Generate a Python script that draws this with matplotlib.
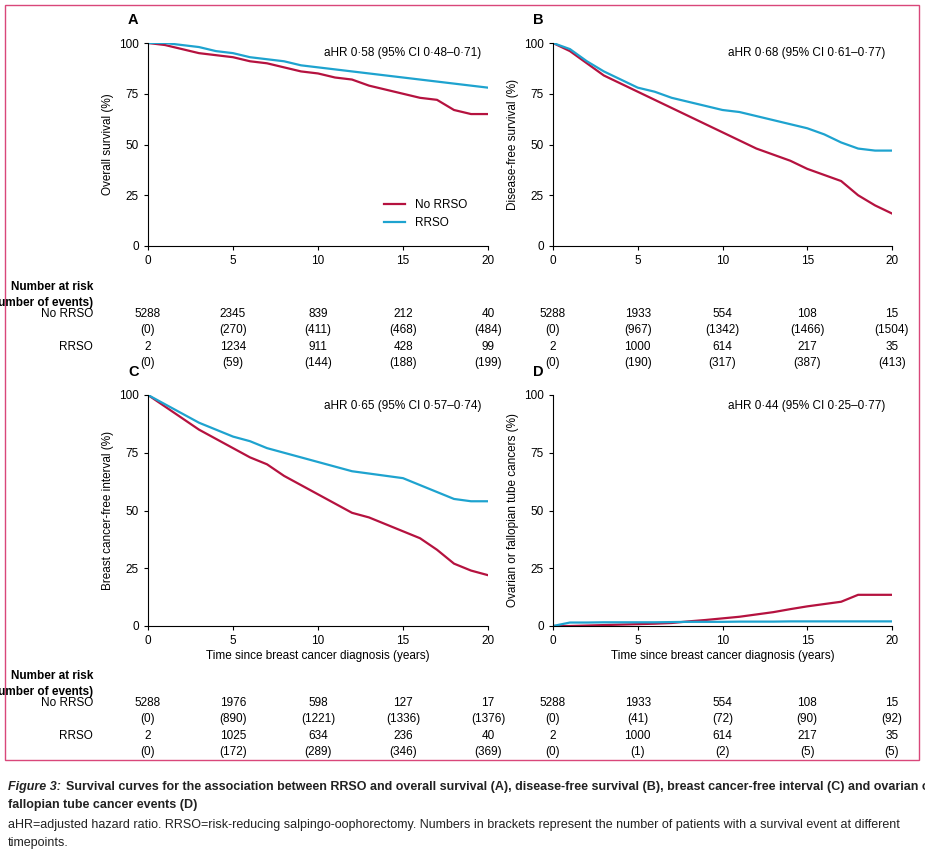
import numpy as np
import matplotlib.pyplot as plt
from matplotlib.patches import Rectangle
from matplotlib.transforms import blended_transform_factory

W, H = 925, 852
RED = '#b5123f'
BLUE = '#1ea3cf'

years = np.arange(0, 21)
a_no = [100, 99, 97, 95, 94, 93, 91, 90, 88, 86, 85, 83, 82, 79, 77, 75, 73, 72, 67, 65, 65]
a_rr = [100, 100, 99, 98, 96, 95, 93, 92, 91, 89, 88, 87, 86, 85, 84, 83, 82, 81, 80, 79, 78]
b_no = [100, 96, 90, 84, 80, 76, 72, 68, 64, 60, 56, 52, 48, 45, 42, 38, 35, 32, 25, 20, 16]
b_rr = [100, 97, 91, 86, 82, 78, 76, 73, 71, 69, 67, 66, 64, 62, 60, 58, 55, 51, 48, 47, 47]
c_no = [100, 95, 90, 85, 81, 77, 73, 70, 65, 61, 57, 53, 49, 47, 44, 41, 38, 33, 27, 24, 22]
c_rr = [100, 96, 92, 88, 85, 82, 80, 77, 75, 73, 71, 69, 67, 66, 65, 64, 61, 58, 55, 54, 54]
d_no = [0, 0, 0.2, 0.4, 0.6, 0.8, 1.0, 1.3, 2.0, 2.6, 3.3, 4.0, 5.0, 6.0, 7.3, 8.5, 9.5, 10.5, 13.5, 13.5, 13.5]
d_rr = [0, 1.5, 1.5, 1.6, 1.6, 1.6, 1.6, 1.7, 1.8, 1.8, 1.8, 1.9, 1.9, 1.9, 2.0, 2.0, 2.0, 2.0, 2.0, 2.0, 2.0]

risk_years = [0, 5, 10, 15, 20]
tables = {
    'A': [['5288', '2345', '839', '212', '40'], ['(0)', '(270)', '(411)', '(468)', '(484)'],
          ['2', '1234', '911', '428', '99'], ['(0)', '(59)', '(144)', '(188)', '(199)']],
    'B': [['5288', '1933', '554', '108', '15'], ['(0)', '(967)', '(1342)', '(1466)', '(1504)'],
          ['2', '1000', '614', '217', '35'], ['(0)', '(190)', '(317)', '(387)', '(413)']],
    'C': [['5288', '1976', '598', '127', '17'], ['(0)', '(890)', '(1221)', '(1336)', '(1376)'],
          ['2', '1025', '634', '236', '40'], ['(0)', '(172)', '(289)', '(346)', '(369)']],
    'D': [['5288', '1933', '554', '108', '15'], ['(0)', '(41)', '(72)', '(90)', '(92)'],
          ['2', '1000', '614', '217', '35'], ['(0)', '(1)', '(2)', '(5)', '(5)']],
}
panels = {
    'A': (a_no, a_rr, 'Overall survival (%)', 'aHR 0·58 (95% CI 0·48–0·71)'),
    'B': (b_no, b_rr, 'Disease-free survival (%)', 'aHR 0·68 (95% CI 0·61–0·77)'),
    'C': (c_no, c_rr, 'Breast cancer-free interval (%)', 'aHR 0·65 (95% CI 0·57–0·74)'),
    'D': (d_no, d_rr, 'Ovarian or fallopian tube cancers (%)', 'aHR 0·44 (95% CI 0·25–0·77)'),
}
# pixel boxes: left, top, right, bottom
boxes = {'A': (148, 43, 488, 246), 'B': (553, 43, 892, 246),
         'C': (148, 395, 488, 626), 'D': (553, 395, 892, 626)}
table_rows = {'A': [314, 330, 347, 363], 'B': [314, 330, 347, 363],
              'C': [703, 719, 736, 752], 'D': [703, 719, 736, 752]}

plt.rcParams['font.family'] = ['Liberation Sans', 'DejaVu Sans']
FS = 8.5
fig = plt.figure(figsize=(W / 100, H / 100), dpi=100)

def fx(x):
    return x / W

def fy(y):
    return 1 - y / H

fig.patches.append(Rectangle((fx(5), fy(760)), fx(914), 755 / H, transform=fig.transFigure,
                             fill=False, edgecolor='#d9477a', linewidth=1.0))

for key, (no, rr, ylab, ahr) in panels.items():
    l, t, r, b = boxes[key]
    ax = fig.add_axes([fx(l), fy(b), (r - l) / W, (b - t) / H])
    ax.plot(years, no, color=RED, lw=1.6, label='No RRSO')
    ax.plot(years, rr, color=BLUE, lw=1.6, label='RRSO')
    ax.set_xlim(0, 20)
    ax.set_ylim(0, 100)
    ax.set_xticks([0, 5, 10, 15, 20])
    ax.set_yticks([0, 25, 50, 75, 100])
    ax.tick_params(labelsize=FS, length=3)
    for s in ['top', 'right']:
        ax.spines[s].set_visible(False)
    ax.set_ylabel(ylab, fontsize=FS)
    ax.text(0.98, 0.98, ahr, transform=ax.transAxes, ha='right', va='top', fontsize=FS)
    if key in ('C', 'D'):
        ax.set_xlabel('Time since breast cancer diagnosis (years)', fontsize=FS, labelpad=2)
    if key == 'A':
        ax.legend(loc='lower right', bbox_to_anchor=(0.97, 0.03), frameon=False, fontsize=FS,
                  handlelength=1.8)
    fig.text(fx(l - 20), fy(t - 23), key, fontsize=10.5, fontweight='bold', ha='left', va='center')

    tr = blended_transform_factory(ax.transData, fig.transFigure)
    for row, y in zip(tables[key], table_rows[key]):
        for yr, val in zip(risk_years, row):
            ax.text(yr, fy(y), val, transform=tr, ha='center', va='center', fontsize=FS,
                    clip_on=False)
    if key in ('A', 'C'):
        r0 = table_rows[key][0]
        fig.text(fx(93), fy(r0 - 27), 'Number at risk', ha='right', va='center', fontsize=FS,
                 fontweight='bold')
        fig.text(fx(93), fy(r0 - 11), '(number of events)', ha='right', va='center', fontsize=FS,
                 fontweight='bold')
        fig.text(fx(93), fy(r0), 'No RRSO', ha='right', va='center', fontsize=FS)
        fig.text(fx(93), fy(table_rows[key][2]), 'RRSO', ha='right', va='center', fontsize=FS)

CS = 9
fig.text(fx(8), fy(787), 'Figure 3:', style='italic', fontweight='bold', fontsize=CS,
         color='#222222', va='center')
fig.text(fx(66), fy(787), 'Survival curves for the association between RRSO and overall survival (A), '
         'disease-free survival (B), breast cancer-free interval (C) and ovarian or',
         fontweight='bold', fontsize=CS, color='#222222', va='center')
fig.text(fx(8), fy(805), 'fallopian tube cancer events (D)', fontweight='bold', fontsize=CS,
         color='#222222', va='center')
fig.text(fx(8), fy(825), 'aHR=adjusted hazard ratio. RRSO=risk-reducing salpingo-oophorectomy. '
         'Numbers in brackets represent the number of patients with a survival event at different',
         fontsize=CS, color='#222222', va='center')
fig.text(fx(8), fy(843), 'timepoints.', fontsize=CS, color='#222222', va='center')

fig.savefig('out.png', dpi=100, facecolor='white')
